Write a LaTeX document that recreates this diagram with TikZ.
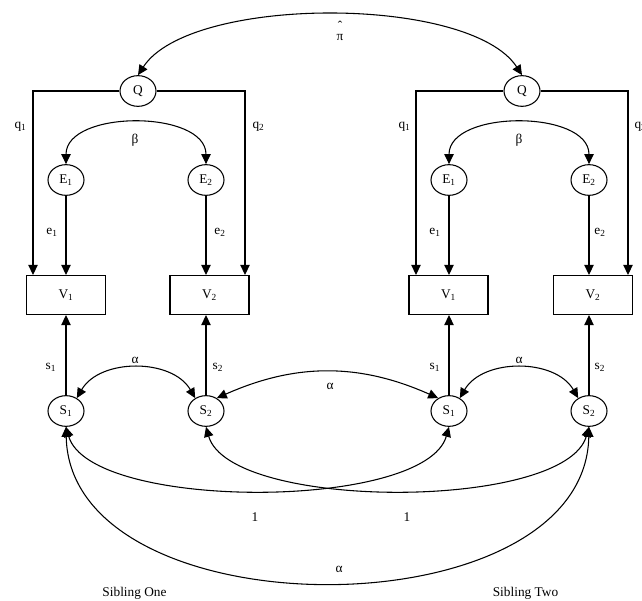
\documentclass[tikz,border=0pt]{standalone}
\usepackage{fontspec}
\setmainfont{Liberation Serif}
\usetikzlibrary{arrows.meta,shapes.geometric,calc}
\begin{document}
\begin{tikzpicture}[x=0.75pt,y=0.75pt,
  font=\fontsize{10}{12}\selectfont,
  >={Triangle[length=7.5pt,width=7pt]},
  line width=0.8pt,
  lat/.style={ellipse,draw,minimum width=27pt,minimum height=23pt,inner sep=0pt},
  obs/.style={rectangle,draw,minimum width=59.25pt,minimum height=29.25pt,inner sep=0pt},
  arr/.style={->},
  dbl/.style={<->},
  lbl/.style={inner sep=0pt}]
\useasboundingbox (0,0) rectangle (642,600);

% latent and observed variables
\node[lat] (Q1) at (138,509) {Q};
\node[lat] (Q2) at (522,509) {Q};
\node[lat] (E1) at (66,420) {E\textsubscript{1}};
\node[lat] (E2) at (206,420) {E\textsubscript{2}};
\node[lat] (E3) at (449,420) {E\textsubscript{1}};
\node[lat] (E4) at (589,420) {E\textsubscript{2}};
\node[obs] (V1) at (66,305) {V\textsubscript{1}};
\node[obs] (V2) at (209.5,305) {V\textsubscript{2}};
\node[obs] (V3) at (448.5,305) {V\textsubscript{1}};
\node[obs] (V4) at (593,305) {V\textsubscript{2}};
\node[lat] (S1) at (66,189) {S\textsubscript{1}};
\node[lat] (S2) at (206,189) {S\textsubscript{2}};
\node[lat] (S3) at (449,189) {S\textsubscript{1}};
\node[lat] (S4) at (589,189) {S\textsubscript{2}};

% pi-hat correlation
\draw[dbl] (Q1.north) .. controls (190,605) and (470,605) .. (Q2.north);
\node[lbl,align=center] (pi) at (340,569) {ˆ\\[-4pt]π};

% Q paths
\draw[arr] (Q1.west) -| ($(V1.north)+(-33,0)$);
\draw[arr] (Q1.east) -| ($(V2.north)+(35.5,0)$);
\draw[arr] (Q2.west) -| ($(V3.north)+(-32.5,0)$);
\draw[arr] (Q2.east) -| ($(V4.north)+(35,0)$);
\node[lbl,anchor=west] (lq1) at (14,473) {q\textsubscript{1}};
\node[lbl,anchor=west] (lq2) at (252,473) {q\textsubscript{2}};
\node[lbl,anchor=west] (lq3) at (398,473) {q\textsubscript{1}};
\node[lbl,anchor=west] (lq4) at (634,473) {q\textsubscript{2}};

% beta correlations
\draw[dbl] (E1.north) to[out=90,in=90] (E2.north);
\draw[dbl] (E3.north) to[out=90,in=90] (E4.north);
\node[lbl] (b1) at (135,460) {β};
\node[lbl] (b2) at (519,460) {β};

% E paths
\draw[arr] (E1) -- (E1 |- V1.north);
\draw[arr] (E2) -- (E2 |- V2.north);
\draw[arr] (E3) -- (E3 |- V3.north);
\draw[arr] (E4) -- (E4 |- V4.north);
\node[lbl] (le1) at (52,368) {e\textsubscript{1}};
\node[lbl] (le2) at (220,368) {e\textsubscript{2}};
\node[lbl] (le3) at (435,368) {e\textsubscript{1}};
\node[lbl] (le4) at (600,368) {e\textsubscript{2}};

% S paths
\draw[arr] (S1) -- (S1 |- V1.south);
\draw[arr] (S2) -- (S2 |- V2.south);
\draw[arr] (S3) -- (S3 |- V3.south);
\draw[arr] (S4) -- (S4 |- V4.south);
\node[lbl] (ls1) at (51,233) {s\textsubscript{1}};
\node[lbl] (ls2) at (218,233) {s\textsubscript{2}};
\node[lbl] (ls3) at (435,233) {s\textsubscript{1}};
\node[lbl] (ls4) at (600,233) {s\textsubscript{2}};

% alpha correlations (top)
\draw[dbl] (S1.50) to[out=60,in=120] (S2.130);
\draw[dbl] (S3.50) to[out=60,in=120] (S4.130);
\draw[dbl] (S2.50) to[out=24,in=156] (S3.130);
\node[lbl] (a1) at (135,240) {α};
\node[lbl] (a2) at (519,240) {α};
\node[lbl] (a3) at (330,214) {α};

% unit correlations
\draw[dbl] (S1.south) .. controls (90,89) and (425,89) .. (S3.south);
\draw[dbl] (S2.south) .. controls (230,89) and (565,89) .. (S4.south);
\node[lbl] (one1) at (255,83) {1};
\node[lbl] (one2) at (407,83) {1};

% alpha correlation (bottom)
\draw[dbl] (S1.south) .. controls (70,-34) and (585,-34) .. (S4.south);
\node[lbl] (a4) at (339,31) {α};

\node[lbl] (sib1) at (134.5,7) {Sibling One};
\node[lbl] (sib2) at (525.5,7) {Sibling Two};
\end{tikzpicture}
\end{document}
